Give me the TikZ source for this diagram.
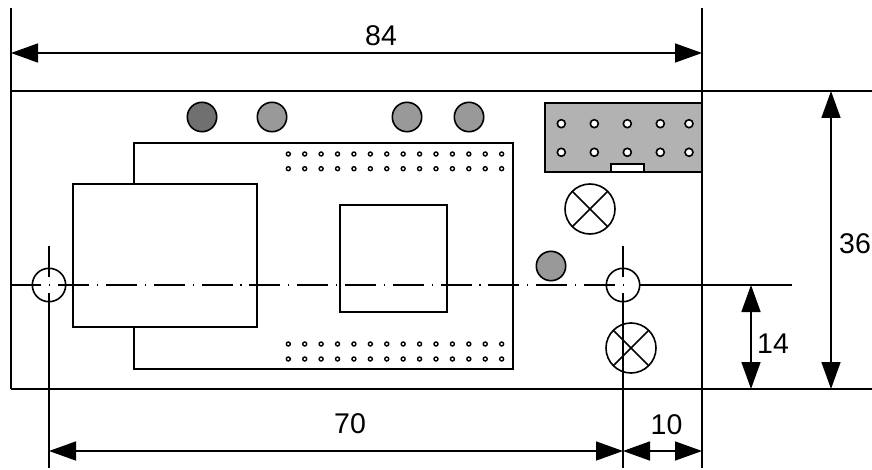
\documentclass[tikz,border=0pt]{standalone}
\usepackage{fontspec}
\setmainfont{Liberation Sans}
\usetikzlibrary{arrows.meta}
\tikzset{
    outline/.style={draw=black, line width=1.6pt},
    thinline/.style={draw=black, line width=1.4pt},
    dimline/.style={draw=black, line width=1.6pt, {Triangle[length=27pt,width=19pt]}-{Triangle[length=27pt,width=19pt]}},
    centerline/.style={draw=black, line width=1.6pt, dash pattern=on 1.2pt off 7.8pt on 31pt off 7.8pt},
    dimtext/.style={inner sep=0pt, font=\fontsize{28.5}{32}\selectfont},
    crossed/.style={draw=black, line width=1.6pt, fill=white}
}
\begin{document}
\begin{tikzpicture}[x=1pt, y=-1pt]
    \useasboundingbox (0,0) rectangle (872,470);

    % board and extension lines
    \coordinate (topA) at (11,8);
    \coordinate (topB) at (702,8);
    \coordinate (botB) at (702,468);
    \coordinate (cornerA) at (11,389);
    \coordinate (farT) at (872,91);
    \coordinate (nearT) at (11,91);
    \coordinate (farB) at (872,389);
    \draw[outline] (topA) -- (cornerA);
    \draw[outline] (topB) -- (botB);
    \draw[outline] (nearT) -- (farT);
    \draw[outline] (cornerA) -- (farB);

    % module
    \draw[outline] (134,143) rectangle (513,369);
    \draw[outline, fill=white] (73,184) rectangle (257,327);
    \draw[outline] (340,205) rectangle (447,312);
    \foreach \x in {0,...,13} {
        \foreach \y in {154,168.7,344,359} {
            \draw[thinline] (288.3+16.41*\x,\y) circle (2);
        }
    }

    % leds
    \draw[outline, fill=black!56] (202,117) circle (14.7);
    \foreach \x in {272,407,469} {
        \draw[outline, fill=black!40] (\x,117) circle (14.7);
    }
    \draw[outline, fill=black!40] (551,266) circle (14.7);

    % connector
    \draw[outline, fill=black!30] (545,103) rectangle (702,172);
    \foreach \x in {561.3,594.3,627.3,660.3,689} {
        \foreach \y in {123.7,152.3} {
            \draw[outline, fill=white] (\x,\y) circle (4);
        }
    }
    \draw[outline, fill=white] (611,164) rectangle (644,172);

    % crossed lamps
    \draw[crossed] (590,209) circle (25);
    \draw[outline] (590,209) ++(45:25) -- ++(225:50);
    \draw[outline] (590,209) ++(135:25) -- ++(315:50);

    % center lines
    \coordinate (holeL) at (49,285);
    \coordinate (holeR) at (623,285);
    \coordinate (lineL) at (10,285);
    \coordinate (lineS) at (640,285);
    \coordinate (lineE) at (792,285);
    \coordinate (holeLup) at (49,246);
    \coordinate (holeLupE) at (49,277);
    \coordinate (holeLdn) at (49,293);
    \coordinate (holeLbot) at (49,468);
    \coordinate (holeRup) at (623,246);
    \coordinate (holeRupE) at (623,277);
    \coordinate (holeRdn) at (623,293);
    \coordinate (holeRbot) at (623,468);
    \draw[centerline] (624,285) -- (lineL);
    \draw[outline] (lineS) -- (lineE);
    \draw[outline] (holeLup) -- (holeLupE);
    \draw[outline] (holeLdn) -- (holeLbot);
    \draw[outline] (holeRup) -- (holeRupE);
    \draw[outline] (holeRdn) -- (holeRbot);
    \draw[outline] (holeL) circle (16.7);
    \draw[outline] (holeR) circle (16.7);

    % second lamp sits over the extension line
    \draw[outline] (631,348) circle (25);
    \draw[outline] (631,348) ++(45:25) -- ++(225:50);
    \draw[outline] (631,348) ++(135:25) -- ++(315:50);

    % dimensions
    \coordinate (d84a) at (11,53);
    \coordinate (d84b) at (702,53);
    \coordinate (d36a) at (831,91);
    \coordinate (d36b) at (831,389);
    \coordinate (d14a) at (751,285);
    \coordinate (d14b) at (751,389);
    \coordinate (d70a) at (49,451);
    \coordinate (d70b) at (623,451);
    \coordinate (d10b) at (702,451);
    \draw[dimline] (d84a) -- (d84b);
    \draw[dimline] (d36a) -- (d36b);
    \draw[dimline] (d14a) -- (d14b);
    \draw[dimline] (d70a) -- (d70b);
    \draw[dimline] (d70b) -- (d10b);

    \node[dimtext] at (381,36) (L84) {84};
    \node[dimtext] at (855,243.5) (L36) {36};
    \node[dimtext] at (773,343.5) (L14) {14};
    \node[dimtext] at (350,424) (L70) {70};
    \node[dimtext] at (666.5,424.5) (L10) {10};
\end{tikzpicture}
\end{document}
